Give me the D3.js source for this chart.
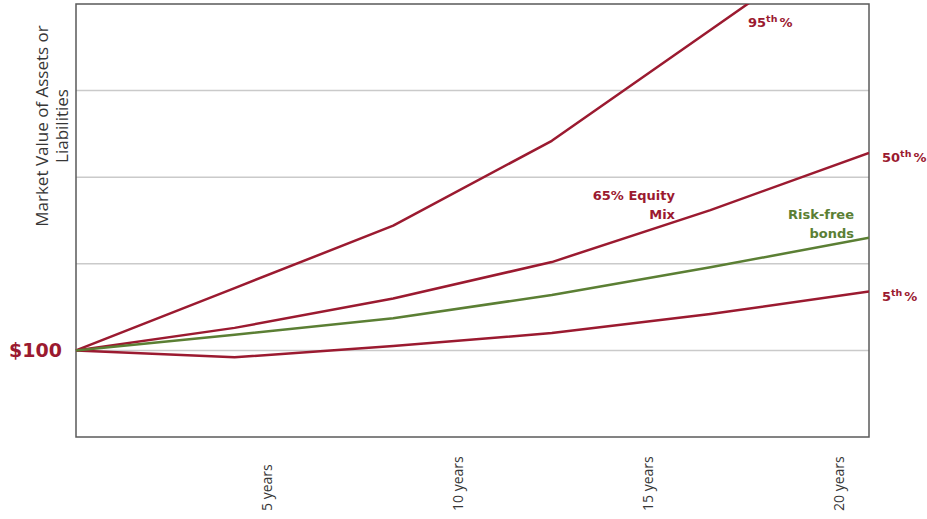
<!DOCTYPE html>
<html>
<head>
<meta charset="utf-8">
<script src="https://cdn.jsdelivr.net/npm/d3@7"></script>
<style>
  body { margin: 0; background: #fff; }
  svg { display: block; }
</style>
</head>
<body>
<div id="chart"></div>
<script>
// Data
const years = [0, 4.16, 8.32, 12.48, 16.64, 20.8];
const pct95 = [100, 136, 172, 221, 285, 349];
const pct50 = [100, 113, 130, 151, 181, 214];
const bonds = [100, 109, 118.5, 132, 148, 165];
const pct5 = [100, 96, 102.5, 110, 121, 134];
const xTicks = [5, 10, 15, 20];
const gridValues = [100, 150, 200, 250];

const red = "#9b1a30";
const green = "#5b7f34";

/*******************************/
/*    Declare the constants    */
/*******************************/
const margin = {top: 4, right: 58, bottom: 82, left: 76};
const width = 927;
const height = 519;
const innerWidth = width - margin.left - margin.right;
const innerHeight = height - margin.top - margin.bottom;

const svg = d3.select("#chart")
  .append("svg")
    .attr("width", width)
    .attr("height", height);

const innerChart = svg
  .append("g")
    .attr("transform", `translate(${margin.left}, ${margin.top})`);

/*******************************/
/*    Scales                   */
/*******************************/
const xScale = d3.scaleLinear()
  .domain([0, 20.8])
  .range([0, innerWidth]);

const yScale = d3.scaleLinear()
  .domain([50, 300])
  .range([innerHeight, 0]);

// clip at the top of the frame (95th line leaves the chart)
svg.append("defs")
  .append("clipPath")
    .attr("id", "plot-clip")
  .append("rect")
    .attr("x", -6)
    .attr("y", 0)
    .attr("width", innerWidth + 6)
    .attr("height", innerHeight);

/*******************************/
/*    Grid + frame             */
/*******************************/
innerChart.append("g")
  .selectAll("line")
  .data(gridValues)
  .join("line")
    .attr("x1", 0)
    .attr("x2", innerWidth)
    .attr("y1", d => yScale(d))
    .attr("y2", d => yScale(d))
    .attr("stroke", "#cacaca")
    .attr("stroke-width", 1.5);

innerChart.append("rect")
  .attr("width", innerWidth)
  .attr("height", innerHeight)
  .attr("fill", "none")
  .attr("stroke", "#5a5a5a")
  .attr("stroke-width", 1.5);

/*******************************/
/*    Axes                     */
/*******************************/
const leftAxis = d3.axisLeft(yScale)
  .tickValues([100])
  .tickFormat(d => `$${d}`)
  .tickSize(0)
  .tickPadding(14);

innerChart.append("g")
    .call(leftAxis)
    .call(g => g.select(".domain").remove())
    .selectAll("text")
      .attr("font-family", "DejaVu Sans, sans-serif")
      .attr("font-weight", "bold")
      .attr("font-size", 19)
      .attr("fill", red);

const bottomAxis = d3.axisBottom(xScale)
  .tickValues(xTicks)
  .tickFormat(d => `${d} years`)
  .tickSize(0);

innerChart.append("g")
    .attr("transform", `translate(0, ${innerHeight})`)
    .call(bottomAxis)
    .call(g => g.select(".domain").remove())
    .selectAll("text")
      .attr("transform", "rotate(-90)")
      .attr("x", -74)
      .attr("y", 0)
      .attr("dy", "0.35em")
      .attr("text-anchor", "start")
      .attr("font-family", "Open Sans, sans-serif")
      .attr("font-size", 14)
      .attr("fill", "#363636");

// y title
const yTitle = ["Market Value of Assets or", "Liabilities"];
svg.append("g")
  .selectAll("text")
  .data(yTitle)
  .join("text")
    .attr("transform", (d, i) => `translate(${48 + i * 20}, 126) rotate(-90)`)
    .attr("text-anchor", "middle")
    .attr("font-family", "Open Sans, sans-serif")
    .attr("font-size", 17)
    .attr("fill", "#363636")
    .text(d => d);

/*******************************/
/*    Lines                    */
/*******************************/
const series = [
  {values: pct95, color: red},
  {values: pct50, color: red},
  {values: pct5, color: red},
  {values: bonds, color: green}
];

const lineGenerator = d3.line()
  .x((d, i) => xScale(years[i]))
  .y(d => yScale(d));

innerChart.append("g")
    .attr("clip-path", "url(#plot-clip)")
  .selectAll("path")
  .data(series)
  .join("path")
    .attr("d", d => lineGenerator(d.values))
    .attr("fill", "none")
    .attr("stroke", d => d.color)
    .attr("stroke-width", 2.5)
    .attr("stroke-linejoin", "round");

/*******************************/
/*    Labels                   */
/*******************************/
const labelFont = g => g
  .attr("font-family", "DejaVu Sans, sans-serif")
  .attr("font-weight", "bold")
  .attr("font-size", 13);

const pctLabel = (x, y, num) => {
  const t = innerChart.append("text")
    .attr("x", x)
    .attr("y", y)
    .attr("fill", red)
    .call(labelFont);
  t.append("tspan").text(num);
  t.append("tspan").attr("font-size", 9.5).attr("dy", -5).text("th");
  t.append("tspan").attr("dy", 5).attr("dx", 2).text("%");
};

const lastX = xScale(years[years.length - 1]);
pctLabel(672, 23, "95");
pctLabel(lastX + 13, yScale(pct50[5]) + 9, "50");
pctLabel(lastX + 13, yScale(pct5[5]) + 9, "5");

const blockLabel = (x, y, lines, color) => {
  innerChart.append("text")
      .attr("text-anchor", "end")
      .attr("fill", color)
      .call(labelFont)
    .selectAll("tspan")
    .data(lines)
    .join("tspan")
      .attr("x", x)
      .attr("y", (d, i) => y + i * 19)
      .text(d => d);
};

blockLabel(599, 196, ["65% Equity", "Mix"], red);
blockLabel(778, 215, ["Risk-free", "bonds"], green);
</script>
</body>
</html>
